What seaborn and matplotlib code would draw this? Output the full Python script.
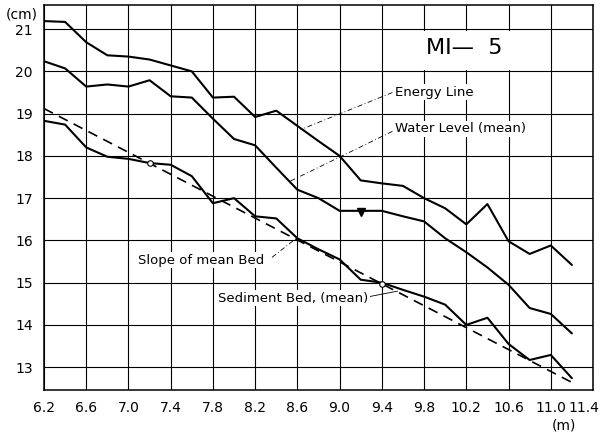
import matplotlib
matplotlib.use("Agg")
import matplotlib.pyplot as plt
from matplotlib.patches import Rectangle
from matplotlib.transforms import ScaledTranslation
import pandas as pd
import seaborn as sns

# stations along the flume (m) and levels (cm)
stations = [6.2, 6.4, 6.6, 6.8, 7.0, 7.2, 7.4, 7.6, 7.8, 8.0, 8.2, 8.4, 8.6,
            8.8, 9.0, 9.2, 9.4, 9.6, 9.8, 10.0, 10.2, 10.4, 10.6, 10.8, 11.0, 11.2]
energy = [21.19, 21.17, 20.69, 20.38, 20.35, 20.28, 20.14, 20.0, 19.38, 19.40,
          18.92, 19.07, 18.71, 18.35, 18.0, 17.42, 17.35, 17.29, 17.0, 16.76,
          16.38, 16.86, 15.98, 15.68, 15.88, 15.42]
water = [20.24, 20.07, 19.64, 19.69, 19.64, 19.79, 19.41, 19.38, 18.88, 18.40,
         18.25, 17.72, 17.20, 17.0, 16.70, 16.70, 16.70, 16.57, 16.45, 16.05,
         15.72, 15.36, 14.95, 14.40, 14.26, 13.80]
sediment = [18.83, 18.74, 18.20, 17.98, 17.93, 17.83, 17.79, 17.52, 16.88, 17.0,
            16.57, 16.52, 16.05, 15.79, 15.55, 15.07, 15.0, 14.83, 14.67, 14.48,
            14.0, 14.17, 13.55, 13.17, 13.29, 12.74]
slope_x = [6.2, 11.2]
slope_y = [19.12, 12.64]
circle_x = [7.2, 9.4]
circle_y = [17.82, 14.97]
wl_mark_x = [9.2]
wl_mark_y = [16.68]

xticks = [6.2, 6.6, 7.0, 7.4, 7.8, 8.2, 8.6, 9.0, 9.4, 9.8, 10.2, 10.6, 11.0, 11.4]
xlabels = ["6.2", "6.6", "7.0", "7.4", "7.8", "8.2", "8.6", "9.0", "9.4",
           "9.8", "10.2", "10.6", "11.0", "11.4"]
yticks = [13, 14, 15, 16, 17, 18, 19, 20, 21]

sns.set_style("white")
plt.rcParams['font.family'] = ['DejaVu Sans']
plt.rcParams['text.color'] = 'black'

fig = plt.figure(figsize=(6.01, 4.40), dpi=100)
ax = fig.add_axes([0.0732, 0.1136, 0.9135, 0.8750])

for ys in (energy, water, sediment):
    sns.lineplot(x=stations, y=ys, ax=ax, color='black', lw=1.5,
                 estimator=None, sort=False, zorder=3)
sns.lineplot(x=slope_x, y=slope_y, ax=ax, color='black', lw=1.2,
             estimator=None, sort=False, zorder=3)
ax.lines[-1].set_linestyle((0, (6, 4)))
ax.plot(circle_x, circle_y, 'o', ms=4, mfc='white', mec='black', mew=0.8, zorder=4)
ax.plot(wl_mark_x, wl_mark_y, 'v', ms=6, mfc='black', mec='black', zorder=4)

ax.set_xlim(6.2, 11.4)
ax.set_ylim(12.46, 21.57)
ax.set_xticks(xticks)
ax.set_xticklabels(xlabels)
ax.set_yticks(yticks)
ax.tick_params(axis='both', length=0, labelsize=10, colors='black')
ax.tick_params(axis='x', pad=8)
ax.tick_params(axis='y', pad=8)
# last label sits flush against the right edge in the original
last = ax.get_xticklabels()[-1]
last.set_ha('right')
last.set_transform(last.get_transform() + ScaledTranslation(6 / 100, 0, fig.dpi_scale_trans))
ax.grid(True, color='black', lw=0.8)
ax.set_axisbelow(True)
for s in ax.spines.values():
    s.set_color('black')
    s.set_linewidth(1.1)
ax.set_xlabel('')
ax.set_ylabel('')

# title box
ax.add_patch(Rectangle((9.44, 20.04), 1.52, 0.92, facecolor='white',
                       edgecolor='none', zorder=1.5))
ax.text(10.18, 20.55, "MI\u2014  5", fontsize=16, ha='center', va='center', zorder=5)

lab = dict(fontsize=9.5, va='center', zorder=5,
           bbox=dict(facecolor='white', edgecolor='none', pad=1.0))
ax.text(9.52, 19.51, "Energy Line", ha='left', **lab)
ax.text(9.52, 18.64, "Water Level (mean)", ha='left', **lab)
ax.text(7.09, 15.53, "Slope of mean Bed", ha='left', **lab)
ax.text(7.85, 14.63, "Sediment Bed, (mean)", ha='left', **lab)

lead = dict(color='black', lw=0.6, ls=(0, (6, 3, 1, 3)), zorder=2.5)
ax.plot([9.50, 8.63], [19.50, 18.62], **lead)
ax.plot([9.50, 8.53], [18.58, 17.40], **lead)
ax.plot([8.36, 8.59], [15.60, 16.05], **lead)
ax.plot([9.26, 9.55], [14.66, 14.80], color='black', lw=0.6, zorder=2.5)

fig.text(22 / 601, 1 - 14 / 440, "(cm)", fontsize=10, ha='center', va='center')
fig.text(564 / 601, 1 - 425 / 440, "(m)", fontsize=10, ha='center', va='center')

fig.savefig("out.png", dpi=100)
